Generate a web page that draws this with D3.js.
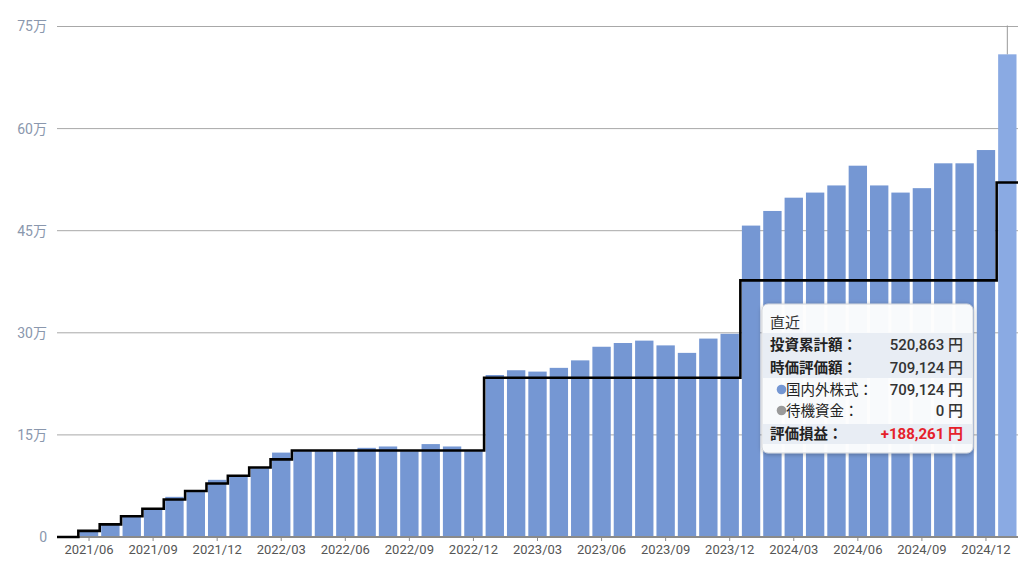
<!DOCTYPE html>
<html>
<head>
<meta charset="utf-8">
<script src="https://cdn.jsdelivr.net/npm/d3@7"></script>
<style>
body { margin: 0; background: #fff; }
svg { display: block; font-family: Roboto, "Noto Sans CJK JP", sans-serif; }
</style>
</head>
<body>
<div id="chart"></div>
<script>
const months = [
    "2021/05", "2021/06", "2021/07", "2021/08", "2021/09", "2021/10", "2021/11", "2021/12",
    "2022/01", "2022/02", "2022/03", "2022/04", "2022/05", "2022/06", "2022/07", "2022/08",
    "2022/09", "2022/10", "2022/11", "2022/12", "2023/01", "2023/02", "2023/03", "2023/04",
    "2023/05", "2023/06", "2023/07", "2023/08", "2023/09", "2023/10", "2023/11", "2023/12",
    "2024/01", "2024/02", "2024/03", "2024/04", "2024/05", "2024/06", "2024/07", "2024/08",
    "2024/09", "2024/10", "2024/11", "2024/12", "2025/01"
];

// 時価評価額 (bars)
const marketValue = [
    0, 9000, 18000, 30000, 41000, 59000, 66000, 84000,
    89000, 101000, 124000, 126000, 126000, 126000, 131000, 133000,
    126000, 136500, 133000, 126000, 238000, 245000, 243000, 248500,
    259500, 279500, 285000, 288500, 281500, 270500, 291500, 298500,
    457500, 479000, 498500, 506000, 516500, 545500, 516500, 506000,
    512500, 549000, 549000, 568500, 709124
];

// 投資累計額 (step line)
const invested = [
    0, 9000, 18500, 30500, 41500, 55000, 67500, 78500,
    90000, 102000, 114000, 127000, 127000, 127000, 127000, 127000,
    127000, 127000, 127000, 127000, 234000, 234000, 234000, 234000,
    234000, 234000, 234000, 234000, 234000, 234000, 234000, 234000,
    377000, 377000, 377000, 377000, 377000, 377000, 377000, 377000,
    377000, 377000, 377000, 377000, 520863
];

const xTickLabels = [
    "2021/06", "2021/09", "2021/12", "2022/03", "2022/06", "2022/09", "2022/12",
    "2023/03", "2023/06", "2023/09", "2023/12", "2024/03", "2024/06", "2024/09", "2024/12"
];
const yTicks = [0, 150000, 300000, 450000, 600000, 750000];

const tipTitle = "直近";
const tipLabels = ["投資累計額：", "時価評価額：", "国内外株式：", "待機資金：", "評価損益："];
const tipValues = ["520,863 円", "709,124 円", "709,124 円", "0 円", "+188,261 円"];

const width = 1024, height = 563;
const margin = {top: 26.5, right: 6, bottom: 26, left: 57};
const barColor = "#7597d3",
    hoverColor = "#8aaae3";

const svg = d3.select("#chart").append("svg")
    .attr("width", width)
    .attr("height", height);

const x = d3.scaleBand()
    .domain(months)
    .range([margin.left, width - margin.right])
    .paddingInner(0.14)
    .paddingOuter(0.07);

const y = d3.scaleLinear()
    .domain([0, 750000])
    .range([height - margin.bottom, margin.top]);

const stepStart = function (m) {
    return x(m) - x.step() * 0.07;
};

//Gridlines
svg.append("g")
    .selectAll("line")
    .data(yTicks.slice(1))
    .enter().append("line")
    .attr("x1", margin.left)
    .attr("x2", width - margin.right)
    .attr("y1", d => y(d))
    .attr("y2", d => y(d))
    .attr("stroke", "#a8a8a8")
    .attr("stroke-width", 1);

//Y labels
svg.append("g")
    .selectAll("text")
    .data(yTicks)
    .enter().append("text")
    .attr("x", 47)
    .attr("y", d => y(d))
    .attr("dy", "0.35em")
    .attr("text-anchor", "end")
    .attr("fill", "#8a97ad")
    .style("font-size", "14px")
    .text(d => d === 0 ? "0" : (d / 10000) + "万");

//Bars
const lastMonth = months[months.length - 1];
svg.append("g")
    .selectAll("rect")
    .data(months)
    .enter().append("rect")
    .attr("x", d => x(d))
    .attr("width", x.bandwidth())
    .attr("y", (d, i) => y(marketValue[i]))
    .attr("height", (d, i) => y(0) - y(marketValue[i]))
    .attr("fill", d => d === lastMonth ? hoverColor : barColor);

//Hover cursor on the latest month
svg.append("line")
    .attr("x1", x(lastMonth) + x.bandwidth() / 2)
    .attr("x2", x(lastMonth) + x.bandwidth() / 2)
    .attr("y1", y(750000) - 1)
    .attr("y2", y(marketValue[marketValue.length - 1]))
    .attr("stroke", "#999")
    .attr("stroke-width", 1);

//X axis
const xAxis = d3.axisBottom(x)
    .tickValues(xTickLabels)
    .tickSize(4)
    .tickSizeOuter(0);

const xg = svg.append("g")
    .attr("transform", "translate(0," + y(0) + ")")
    .call(xAxis);
xg.select(".domain")
    .attr("stroke", "#8a8a8a")
    .attr("stroke-width", 2)
    .attr("d", "M" + margin.left + ",0H" + (width - margin.right));
xg.selectAll(".tick line").attr("stroke", "#8a8a8a");
xg.selectAll(".tick text")
    .attr("fill", "#555")
    .attr("y", 8)
    .style("font-size", "13px")
    .style("font-family", "Roboto, sans-serif");

//Cumulative investment step line
const linePoints = months.map((m, i) => [stepStart(m), invested[i]]);
linePoints.push([width - margin.right, invested[invested.length - 1]]);

svg.append("path")
    .datum(linePoints)
    .attr("fill", "none")
    .attr("stroke", "#000")
    .attr("stroke-width", 2.6)
    .attr("d", d3.line()
        .x(d => d[0])
        .y(d => y(d[1]))
        .curve(d3.curveStepAfter));

//Tooltip
const defs = svg.append("defs");
const shadow = defs.append("filter")
    .attr("id", "shadow")
    .attr("x", "-10%").attr("y", "-10%")
    .attr("width", "120%").attr("height", "125%");
shadow.append("feDropShadow")
    .attr("dx", 0).attr("dy", 1)
    .attr("stdDeviation", 2)
    .attr("flood-color", "#000")
    .attr("flood-opacity", 0.3);

const tip = svg.append("g").attr("transform", "translate(762,304)");
const tipW = 211, tipH = 149;

tip.append("rect")
    .attr("width", tipW)
    .attr("height", tipH)
    .attr("rx", 6)
    .attr("fill", "#fff")
    .attr("fill-opacity", 0.95)
    .attr("stroke", "#d0d4da")
    .attr("filter", "url(#shadow)");

tip.append("rect")
    .attr("x", 1).attr("y", 29)
    .attr("width", tipW - 2).attr("height", 45)
    .attr("fill", "#e8edf4");
tip.append("rect")
    .attr("x", 1).attr("y", 120)
    .attr("width", tipW - 2).attr("height", 20)
    .attr("fill", "#e8edf4");

tip.append("text")
    .attr("x", 8).attr("y", 19)
    .attr("dy", "0.35em")
    .attr("fill", "#333")
    .style("font-size", "15px")
    .text(tipTitle);

const rowY = [41, 64, 85.5, 106.5, 130];
const bold = [true, true, false, false, true];
const indent = [8, 8, 24, 24, 8];

tip.selectAll(".tip-label")
    .data(tipLabels)
    .enter().append("text")
    .attr("class", "tip-label")
    .attr("x", (d, i) => indent[i])
    .attr("y", (d, i) => rowY[i])
    .attr("dy", "0.35em")
    .attr("fill", "#222")
    .style("font-size", "14.5px")
    .style("font-weight", (d, i) => bold[i] ? "700" : "400")
    .text(d => d);

tip.selectAll(".tip-value")
    .data(tipValues)
    .enter().append("text")
    .attr("class", "tip-value")
    .attr("x", 201)
    .attr("y", (d, i) => rowY[i])
    .attr("dy", "0.35em")
    .attr("text-anchor", "end")
    .attr("fill", (d, i) => i === 4 ? "#e5202b" : "#333")
    .style("font-size", "15px")
    .style("font-weight", (d, i) => i === 4 ? "700" : "500")
    .text(d => d);

tip.append("circle")
    .attr("cx", 19.5).attr("cy", rowY[2])
    .attr("r", 4.8)
    .attr("fill", barColor);
tip.append("circle")
    .attr("cx", 19.5).attr("cy", rowY[3])
    .attr("r", 4.8)
    .attr("fill", "#9a9a9a");
</script>
</body>
</html>
